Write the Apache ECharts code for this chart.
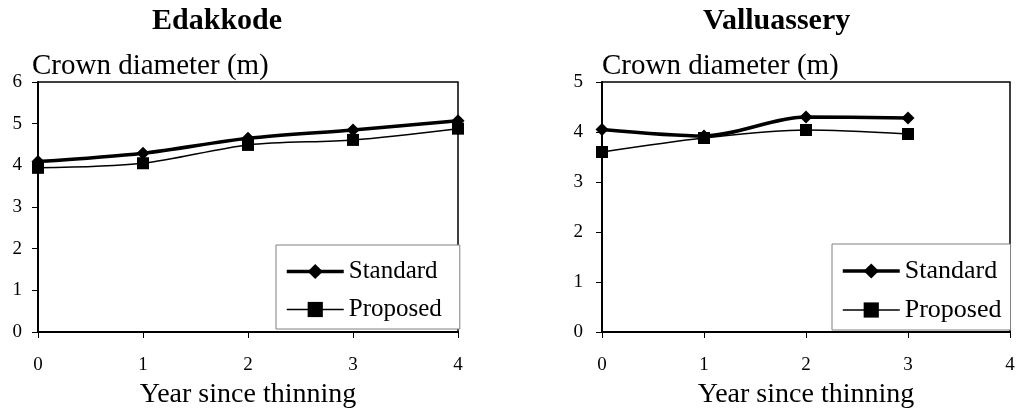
<!DOCTYPE html>
<html>
<head>
<meta charset="utf-8">
<script src="https://cdn.jsdelivr.net/npm/echarts@6/dist/echarts.min.js"></script>
<style>
  html, body { margin: 0; padding: 0; background: #fff; }
  #chart { width: 1016px; height: 410px; }
</style>
</head>
<body>
<div id="chart"></div>
<script>
const FONT = "'Liberation Serif', 'Times New Roman', serif";

// years since thinning
const edakYears = [0, 1, 2, 3, 4];
const edakStandard = [4.09, 4.29, 4.65, 4.85, 5.07];
const edakProposed = [3.94, 4.05, 4.49, 4.61, 4.88];

const valluYears = [0, 1, 2, 3];
const valluStandard = [4.05, 3.92, 4.30, 4.28];
const valluProposed = [3.60, 3.88, 4.04, 3.96];

const xTicks = [0, 1, 2, 3, 4];

function pairs(xs, ys) {
  return xs.map((x, i) => [x, ys[i]]);
}

function xAxisFor(gridIndex) {
  return {
    type: "value",
    gridIndex,
    min: 0,
    max: xTicks[xTicks.length - 1],
    interval: 1,
    name: "Year since thinning",
    nameLocation: "middle",
    nameGap: 49,
    nameTextStyle: { fontFamily: FONT, fontSize: 28, color: "#000" },
    axisLine: { show: true, lineStyle: { color: "#000", width: 2 } },
    axisTick: { show: true, inside: false, length: 6, lineStyle: { color: "#000", width: 1 } },
    axisLabel: { fontFamily: FONT, fontSize: 19, color: "#000", margin: 24 },
    splitLine: { show: false },
  };
}

function yAxisFor(gridIndex, max, margin, shift) {
  return {
    type: "value",
    gridIndex,
    min: 0,
    max,
    interval: 1,
    name: "Crown diameter (m)",
    nameLocation: "end",
    nameGap: 1,
    nameTextStyle: {
      fontFamily: FONT, fontSize: 29, color: "#000",
      align: "left", padding: [0, 0, 0, shift],
    },
    axisLine: { show: true, lineStyle: { color: "#000", width: 2 } },
    axisTick: { show: true, inside: false, length: 6, lineStyle: { color: "#000", width: 1 } },
    axisLabel: { fontFamily: FONT, fontSize: 19, color: "#000", margin: margin },
    splitLine: { show: false },
  };
}

function standardSeries(idx, data) {
  return {
    name: "Standard",
    type: "line",
    xAxisIndex: idx,
    yAxisIndex: idx,
    data,
    smooth: 0.3,
    symbol: "diamond",
    symbolSize: 13,
    lineStyle: { color: "#000", width: 3.5 },
    itemStyle: { color: "#000" },
    z: 3,
  };
}

function proposedSeries(idx, data) {
  return {
    name: "Proposed",
    type: "line",
    xAxisIndex: idx,
    yAxisIndex: idx,
    data,
    smooth: 0.3,
    symbol: "rect",
    symbolSize: 12,
    lineStyle: { color: "#000", width: 1.5 },
    itemStyle: { color: "#000" },
    z: 2,
  };
}

function legendAt(left, top, padRight, fontSize) {
  return {
    left,
    top,
    orient: "vertical",
    data: [
      { name: "Standard", lineStyle: { width: 3.5, color: "#000" }, itemStyle: { color: "#000" } },
      { name: "Proposed", lineStyle: { width: 1.5, color: "#000" }, itemStyle: { color: "#000" } },
    ],
    padding: [14, padRight, 7, 9],
    itemGap: 13,
    itemWidth: 57,
    itemHeight: 19,
    backgroundColor: "#fff",
    borderColor: "#808080",
    borderWidth: 1,
    borderRadius: 0,
    selectedMode: false,
    textStyle: { fontFamily: FONT, fontSize, color: "#000" },
  };
}

const chart = echarts.init(document.getElementById("chart"));

chart.setOption({
  animation: false,
  backgroundColor: "#fff",
  title: [
    {
      text: "Edakkode",
      left: 152,
      top: 6,
      padding: 0,
      textStyle: { fontFamily: FONT, fontSize: 30, fontWeight: "bold", color: "#000" },
    },
    {
      text: "Valluassery",
      left: 703,
      top: 6,
      padding: 0,
      textStyle: { fontFamily: FONT, fontSize: 30, fontWeight: "bold", color: "#000" },
    },
  ],
  grid: [
    { left: 38, right: 1016 - 458, top: 82, bottom: 78, outerBoundsMode: "none", containLabel: false,
      show: true, borderColor: "#000", borderWidth: 1.5 },
    { left: 602, right: 6, top: 82, bottom: 78, outerBoundsMode: "none", containLabel: false,
      show: true, borderColor: "#000", borderWidth: 1.5 },
  ],
  legend: [legendAt(276, 245, 18, 25), legendAt(832, 244, 9, 26)],
  xAxis: [xAxisFor(0), xAxisFor(1)],
  yAxis: [yAxisFor(0, 6, 16, -6), yAxisFor(1, 5, 19, 0)],
  series: [
    standardSeries(0, pairs(edakYears, edakStandard)),
    proposedSeries(0, pairs(edakYears, edakProposed)),
    standardSeries(1, pairs(valluYears, valluStandard)),
    proposedSeries(1, pairs(valluYears, valluProposed)),
  ],
});
</script>
</body>
</html>
